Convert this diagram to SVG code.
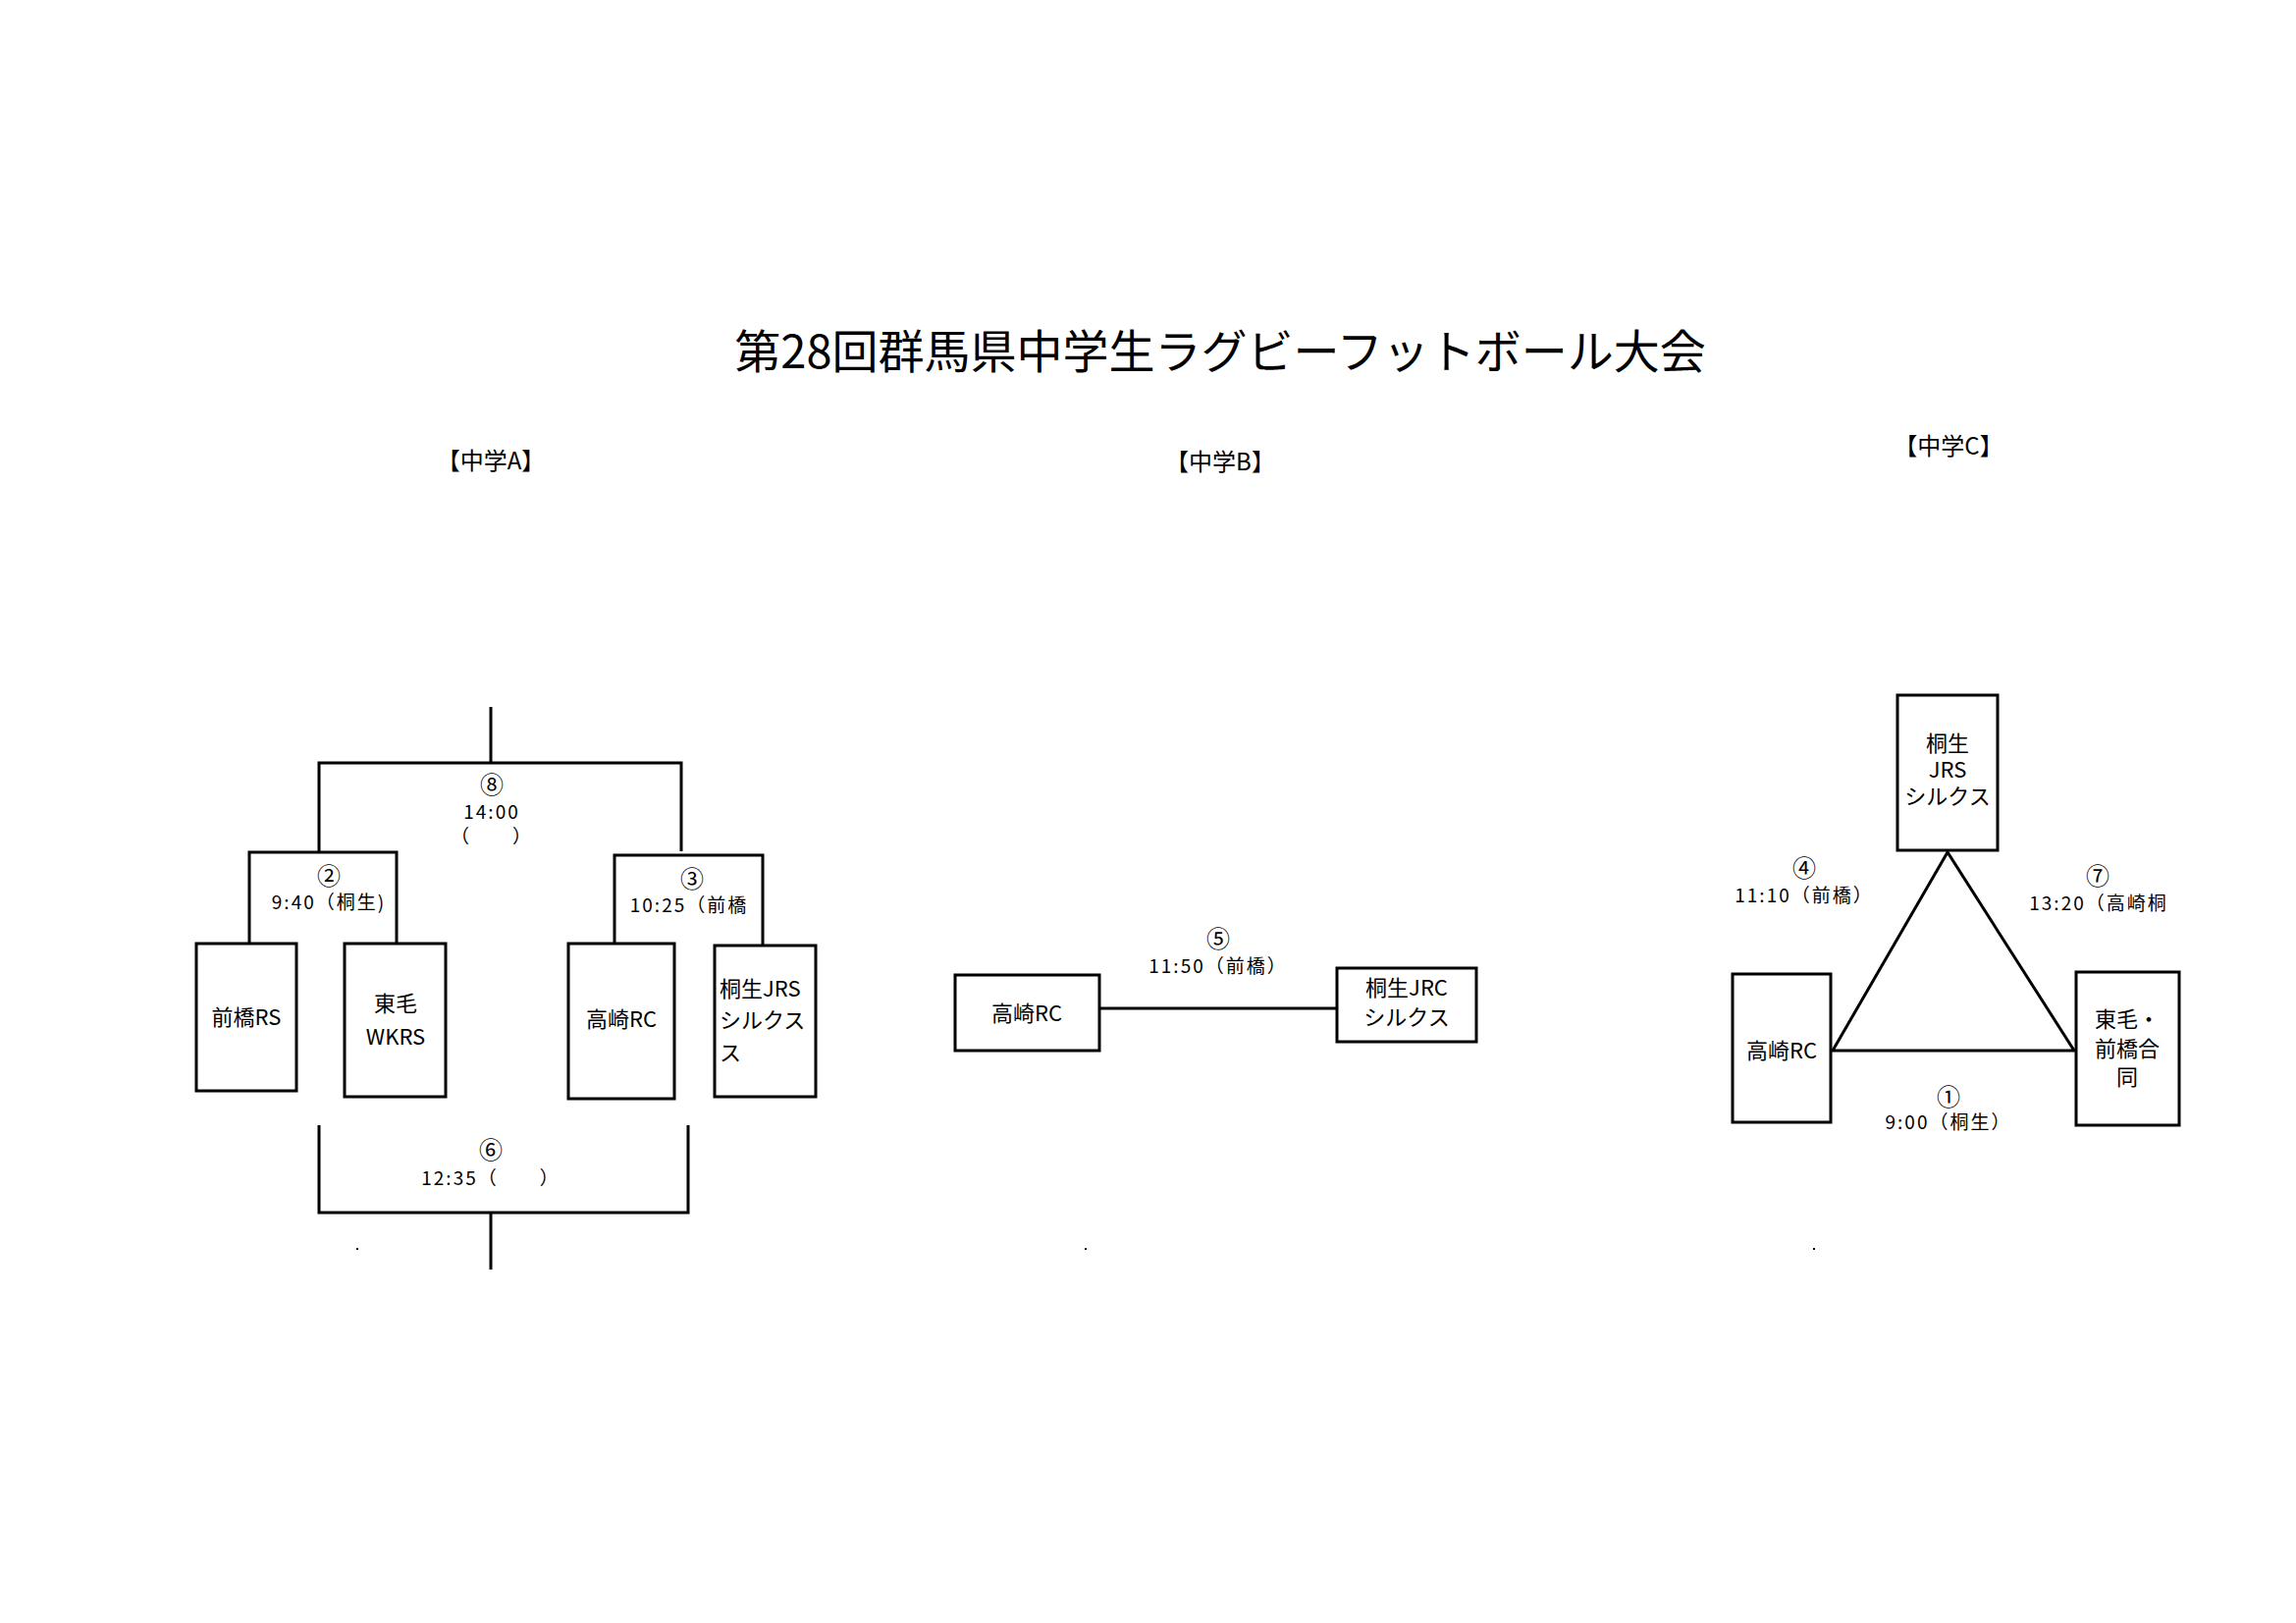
<svg xmlns="http://www.w3.org/2000/svg" width="2339" height="1653" viewBox="0 0 2339 1653">
<style>
text{font-family:"Noto Sans CJK JP","Liberation Sans",sans-serif;fill:#000;text-anchor:middle}
.t{font-size:47px}
.h{font-size:24px}
.l{font-size:19px;letter-spacing:2px}
.c{font-size:24px}
.b{font-size:22px}
.s{text-anchor:start}
.box{fill:#fff;stroke:#000;stroke-width:3}
.ln{stroke:#000;stroke-width:3;fill:none}
</style>
<rect width="2339" height="1653" fill="#fff"/>
<text class="t" x="1243" y="375">第28回群馬県中学生ラグビーフットボール大会</text>
<text class="h" x="500" y="478">【中学A】</text>
<text class="h" x="1243" y="479">【中学B】</text>
<text class="h" x="1985" y="463">【中学C】</text>
<g id="connectors">
<path class="ln" d="M500 720V777M325 868V777H694V867M254 961V868H404V961M626 962V871H777V962"/>
<path class="ln" d="M325 1146V1235H701V1146M500 1235V1293"/>
<path class="ln" d="M1120 1027H1362"/>
<path class="ln" d="M1984 868L1867 1070H2113Z"/>
</g>
<g id="labels">
<text class="c" x="501" y="808">⑧</text>
<text class="l" x="501" y="834">14:00</text>
<text class="l" x="501" y="859">（　　）</text>
<text class="c" x="335" y="901">②</text>
<text class="l" x="335" y="926">9:40（桐生)</text>
<text class="c" x="705" y="904">③</text>
<text class="l" x="702" y="929">10:25（前橋</text>
<text class="c" x="500" y="1180">⑥</text>
<text class="l" x="500" y="1207">12:35（　　）</text>
<text class="c" x="1241" y="965">⑤</text>
<text class="l" x="1241" y="991">11:50（前橋）</text>
<text class="c" x="1838" y="893">④</text>
<text class="l" x="1838" y="919">11:10（前橋）</text>
<text class="c" x="2137" y="901">⑦</text>
<text class="l" x="2138" y="927">13:20（高崎桐</text>
<text class="c" x="1985" y="1126">①</text>
<text class="l" x="1985" y="1150">9:00（桐生）</text>
</g>
<g id="a1"><rect class="box" x="200" y="961" width="102" height="150"/><text class="b" x="251" y="1044">前橋RS</text></g>
<g id="a2"><rect class="box" x="351" y="961" width="103" height="156"/><text class="b" x="403" y="1030">東毛</text><text class="b" x="403" y="1064">WKRS</text></g>
<g id="a3"><rect class="box" x="579" y="961" width="108" height="158"/><text class="b" x="633" y="1046">高崎RC</text></g>
<g id="a4"><rect class="box" x="728" y="963" width="103" height="154"/><text class="b s" x="733" y="1015">桐生JRS</text><text class="b s" x="733" y="1047">シルクス</text><text class="b s" x="733" y="1080">ス</text></g>
<g id="b1"><rect class="box" x="973" y="993" width="147" height="77"/><text class="b" x="1046" y="1040">高崎RC</text></g>
<g id="b2"><rect class="box" x="1362" y="986" width="142" height="75"/><text class="b" x="1433" y="1014">桐生JRC</text><text class="b" x="1433" y="1044">シルクス</text></g>
<g id="c1"><rect class="box" x="1933" y="708" width="102" height="158"/><text class="b" x="1984" y="765">桐生</text><text class="b" x="1984" y="792">JRS</text><text class="b" x="1984" y="819">シルクス</text></g>
<g id="c2"><rect class="box" x="1765" y="992" width="100" height="151"/><text class="b" x="1815" y="1078">高崎RC</text></g>
<g id="c3"><rect class="box" x="2115" y="990" width="105" height="156"/><text class="b" x="2167" y="1046">東毛・</text><text class="b" x="2167" y="1076">前橋合</text><text class="b" x="2167" y="1105">同</text></g>
<g id="dots"><rect x="363" y="1271" width="2" height="2"/><rect x="1105" y="1271" width="2" height="2"/><rect x="1847" y="1271" width="2" height="2"/></g>
</svg>
